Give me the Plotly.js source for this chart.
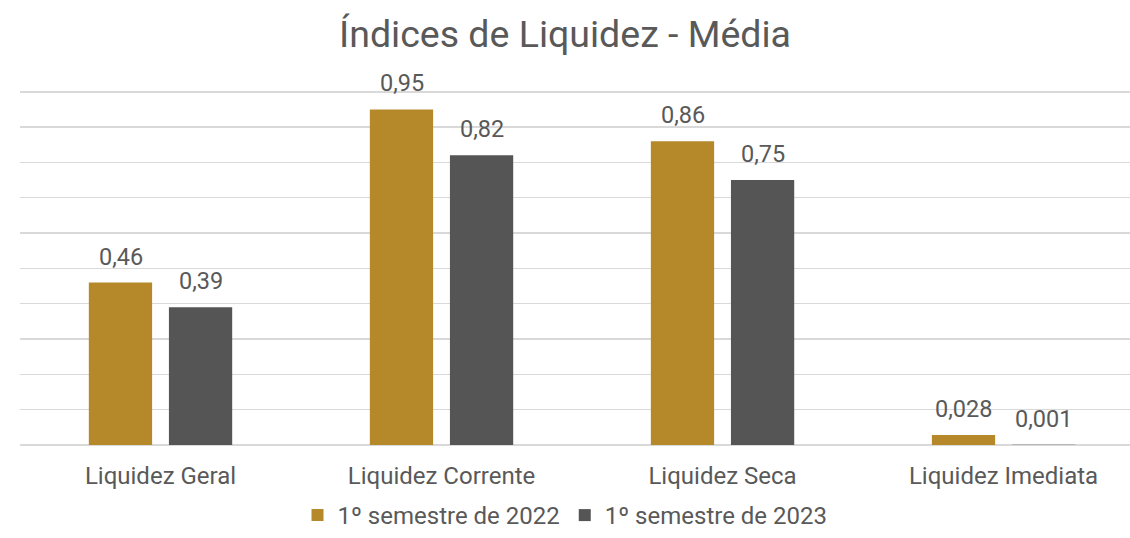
<!DOCTYPE html>
<html>
<head>
<meta charset="utf-8">
<script src="https://cdn.plot.ly/plotly-3.0.1.min.js"></script>
<style>
  html, body { margin: 0; padding: 0; background: #fff; }
  #plotArea { width: 1130px; height: 538px; }
</style>
</head>
<body>
<div id="plotArea"></div>
<script>
// chart data
var categories = ["Liquidez Geral", "Liquidez Corrente", "Liquidez Seca", "Liquidez Imediata"];
var sem2022 = [0.46, 0.95, 0.86, 0.028];
var sem2023 = [0.39, 0.82, 0.75, 0.001];
var seriesNames = ["1º semestre de 2022", "1º semestre de 2023"];
var seriesColors = ["#B5892A", "#555555"];

var textColor = "#595959";

var trace1 = {
    x: categories,
    y: sem2022,
    name: seriesNames[0],
    type: "bar",
    marker: {color: seriesColors[0]},
    hoverinfo: "none"
};

var trace2 = {
    x: categories,
    y: sem2023,
    name: seriesNames[1],
    type: "bar",
    marker: {color: seriesColors[1]},
    hoverinfo: "none"
};

// value labels above each bar, shifted left/right to sit over its bar in the group
function fmt(v) { return String(v).replace(".", ","); }
var annotations = [];
[sem2022, sem2023].forEach(function (vals, i) {
    vals.forEach(function (v, j) {
        annotations.push({
            x: categories[j],
            y: v,
            xref: "x",
            yref: "y",
            text: fmt(v),
            showarrow: false,
            xshift: i === 0 ? -40 : 40,
            yshift: 26,
            yanchor: "middle",
            font: {size: 23.5, color: textColor}
        });
    });
});

var layout = {
    width: 1130,
    height: 538,
    margin: {l: 20, r: 0, t: 90, b: 93},
    paper_bgcolor: "#ffffff",
    plot_bgcolor: "#ffffff",
    font: {family: "Roboto, sans-serif", color: textColor, size: 24},
    title: {
        text: "Índices de Liquidez - Média",
        font: {size: 37.5, color: textColor},
        x: 0.5,
        xanchor: "center",
        y: 0.937,
        yanchor: "middle"
    },
    barmode: "group",
    bargap: 0.43,
    bargroupgap: 0.21,
    xaxis: {
        range: [-0.5, 3.45],
        showgrid: false,
        showline: false,
        zeroline: false,
        ticks: "outside",
        ticklen: 9,
        tickcolor: "rgba(0,0,0,0)",
        tickfont: {size: 24, color: textColor}
    },
    yaxis: {
        range: [0, 1.005],
        dtick: 0.1,
        showticklabels: false,
        gridcolor: "#D9D9D9",
        gridwidth: 1.5,
        zeroline: true,
        zerolinecolor: "#D9D9D9",
        zerolinewidth: 2
    },
    showlegend: true,
    legend: {
        orientation: "h",
        x: 0.5,
        xanchor: "center",
        xref: "container",
        yref: "container",
        y: -0.012,
        yanchor: "bottom",
        itemwidth: 30,
        tracegroupgap: 0,
        font: {size: 24, color: textColor}
    },
    annotations: annotations
};

Plotly.newPlot("plotArea", [trace1, trace2], layout, {displayModeBar: false, staticPlot: true});
</script>
</body>
</html>
